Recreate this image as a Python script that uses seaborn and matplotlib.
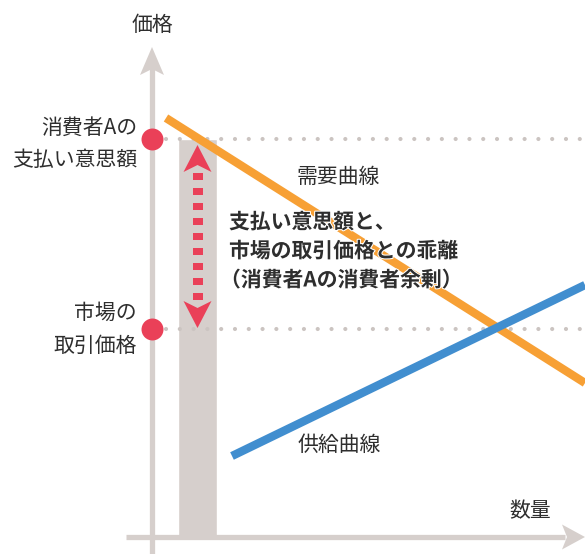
import matplotlib
matplotlib.use("Agg")
import matplotlib.pyplot as plt
from matplotlib.patches import Polygon
import matplotlib.patheffects as pe
import seaborn as sns
import pandas as pd
import numpy as np

sns.set_theme(style="white")
plt.rcParams['font.family'] = ['Noto Sans CJK JP', 'DejaVu Sans']

# ---- data (schematic units: quantity q, price p) ----
demand_q = [14, 433]
demand_p = [419, 154]
supply_q = [80, 433]
supply_p = [81, 252]
wtp_price = 398        # consumer A's willingness to pay
market_price = 208     # market price
consumerA_q = 45.5     # consumer A position on quantity axis
consumerA_width = 39
guide_start_q = 14
axis_right_q = 433
axis_top_p = 490

labels_left = [("消費者Aの", 409), ("支払い意思額", 377), ("市場の", 224), ("取引価格", 191)]
bold_lines = ["支払い意思額と、", "市場の取引価格との乖離", "（消費者Aの消費者余剰）"]

ORANGE = "#f7a035"
BLUE = "#418ecf"
RED = "#ea4058"
GRAY = "#d6cfcc"
DOT = "#cbc4c1"
TXT = "#2e2e2e"

fig = plt.figure(figsize=(5.85, 5.54), dpi=100)
ax = fig.add_axes([0, 0, 1, 1])

# bar (consumer A)
ax.bar([consumerA_q], [wtp_price], width=consumerA_width, color=GRAY, zorder=1)

# axes lines
ax.plot([0, 0], [-17, axis_top_p - 20], color=GRAY, lw=3.8, zorder=2, solid_capstyle="butt")
ax.add_patch(Polygon([(0, axis_top_p), (-12, axis_top_p - 28), (0, axis_top_p - 22), (12, axis_top_p - 28)],
                     closed=True, color=GRAY, zorder=2, lw=0))
ax.plot([-26, axis_right_q - 20], [0, 0], color=GRAY, lw=3.8, zorder=2, solid_capstyle="butt")
ax.add_patch(Polygon([(axis_right_q, 0), (axis_right_q - 23, 12.5), (axis_right_q - 18, 0), (axis_right_q - 23, -12.5)],
                     closed=True, color=GRAY, zorder=2, lw=0))

# dotted guide lines
for pr in [wtp_price, market_price]:
    ax.plot([guide_start_q, axis_right_q], [pr, pr], color=DOT, lw=3.0,
            linestyle=(0, (0.01, 3.3)), dash_capstyle="round", zorder=3)

# curves
df_d = pd.DataFrame({"q": demand_q, "p": demand_p})
df_s = pd.DataFrame({"q": supply_q, "p": supply_p})
sns.lineplot(data=df_d, x="q", y="p", ax=ax, color=ORANGE, lw=6.0, zorder=4,
             solid_capstyle="butt", legend=False)
sns.lineplot(data=df_s, x="q", y="p", ax=ax, color=BLUE, lw=6.0, zorder=5,
             solid_capstyle="butt", legend=False)

# red dots
df_dots = pd.DataFrame({"q": [0, 0], "p": [wtp_price, market_price]})
sns.scatterplot(data=df_dots, x="q", y="p", ax=ax, color=RED, s=250, linewidth=0, zorder=6, legend=False)

# red double arrow
top_tip = wtp_price - 6
bot_tip = market_price + 1
head_h = 27
ax.plot([consumerA_q, consumerA_q], [top_tip - head_h - 1, bot_tip + head_h],
        color=RED, lw=7.2, linestyle=(0, (0.7, 0.8)), dash_capstyle="butt", zorder=7)
ax.add_patch(Polygon([(consumerA_q, top_tip), (consumerA_q - 14, top_tip - head_h),
                      (consumerA_q, top_tip - head_h + 7), (consumerA_q + 14, top_tip - head_h)],
                     closed=True, color=RED, lw=0, zorder=7))
ax.add_patch(Polygon([(consumerA_q, bot_tip), (consumerA_q - 14, bot_tip + head_h),
                      (consumerA_q, bot_tip + head_h - 7), (consumerA_q + 14, bot_tip + head_h)],
                     closed=True, color=RED, lw=0, zorder=7))

ax.set_xlim(-152, 433)
ax.set_ylim(-17, 537)
ax.axis("off")

# texts
fs = 15
ax.text(0, 512, "価格", ha="center", va="center", fontsize=fs, color=TXT, zorder=10)
ax.text(378, 26, "数量", ha="center", va="center", fontsize=fs, color=TXT, zorder=10)
for t, p in labels_left:
    ax.text(-15, p, t, ha="right", va="center", fontsize=fs, color=TXT, zorder=10)
ax.text(145, 360, "需要曲線", ha="left", va="center", fontsize=fs, color=TXT, zorder=10)
ax.text(146, 92, "供給曲線", ha="left", va="center", fontsize=fs, color=TXT, zorder=10)
for t, p, dx in zip(bold_lines, [315, 286, 257], [77, 77, 68]):
    ax.text(dx, p, t, ha="left", va="center", fontsize=15, color=TXT, fontweight="bold", zorder=10,
            path_effects=[pe.withStroke(linewidth=1.5, foreground="white")])

fig.savefig("out.png", dpi=100)
